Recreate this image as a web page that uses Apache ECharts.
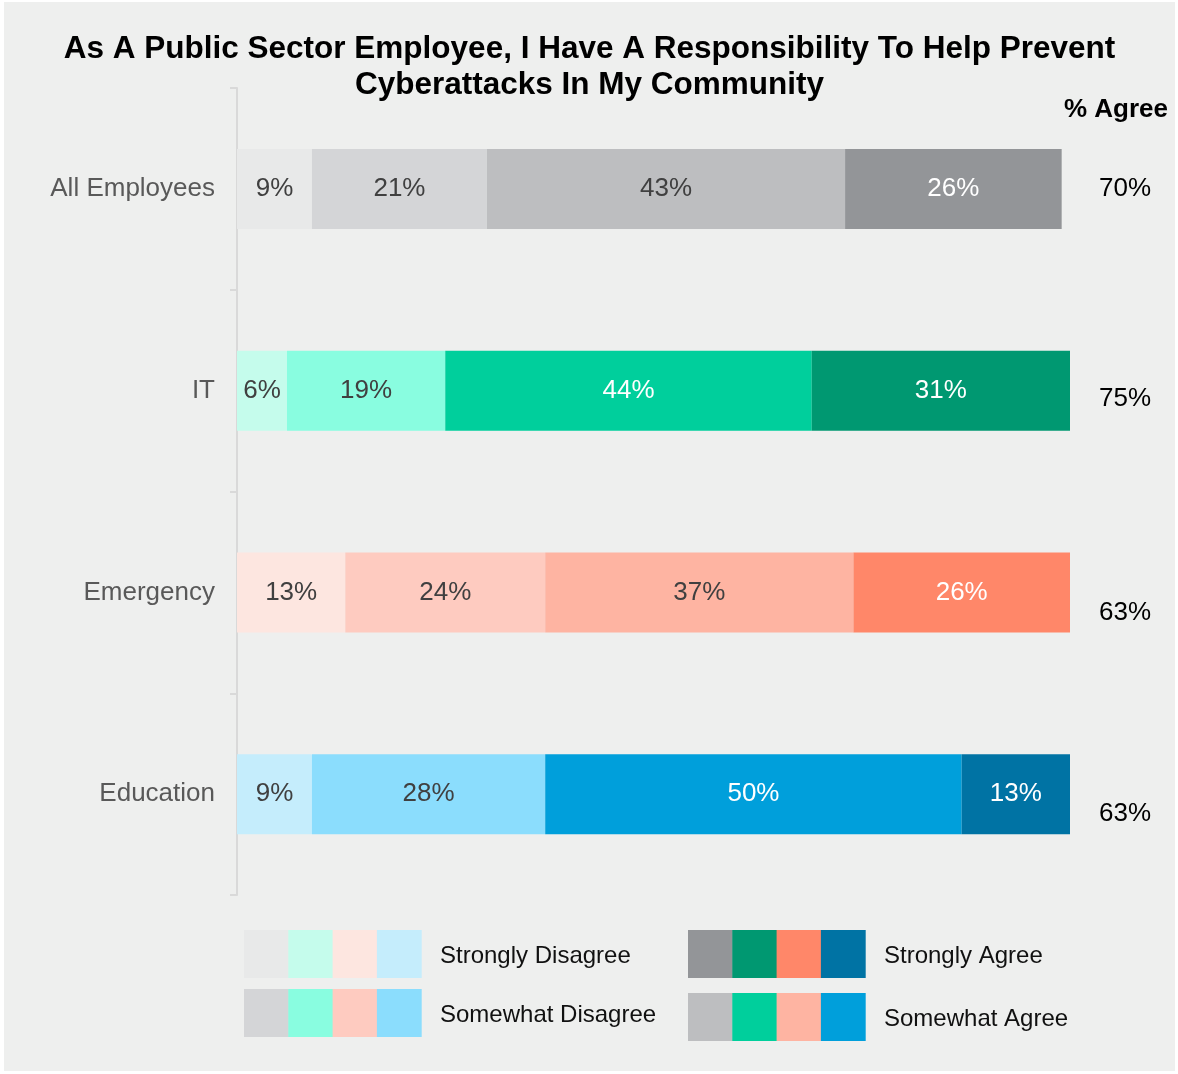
<!DOCTYPE html>
<html>
<head>
<meta charset="utf-8">
<script src="https://cdn.jsdelivr.net/npm/echarts@6/dist/echarts.min.js"></script>
<style>
  html, body { margin: 0; padding: 0; background: #ffffff; }
  #chart { position: absolute; left: 4px; top: 2px; width: 1171px; height: 1069px; background: #eeefee; }
</style>
</head>
<body>
<div id="chart"></div>
<script>
// Survey responses by employee group (percent of respondents)
const categories = ['All Employees', 'IT', 'Emergency', 'Education'];
const stronglyDisagree = [9, 6, 13, 9];
const somewhatDisagree = [21, 19, 24, 28];
const somewhatAgree = [43, 44, 37, 50];
const stronglyAgree = [26, 31, 26, 13];
const percentAgree = [70, 75, 63, 63];

const responseLevels = ['Strongly Disagree', 'Somewhat Disagree', 'Somewhat Agree', 'Strongly Agree'];
const levelValues = [stronglyDisagree, somewhatDisagree, somewhatAgree, stronglyAgree];

// One shade per response level for each group: grey, green, coral, blue
const levelColors = [
  ['#e8e9e9', '#c5fcec', '#fde6e0', '#c5edfc'],
  ['#d4d5d7', '#89fde0', '#fecbc0', '#8bddfd'],
  ['#bdbec0', '#00cf9c', '#feb4a2', '#009fdb'],
  ['#939598', '#009871', '#ff8769', '#0073a4']
];

const FONT = '"Liberation Sans", Arial, sans-serif';

function labelColor(hex) {
  const r = parseInt(hex.slice(1, 3), 16), g = parseInt(hex.slice(3, 5), 16), b = parseInt(hex.slice(5, 7), 16);
  const lum = (0.299 * r + 0.587 * g + 0.114 * b) / 255;
  return lum < 0.7 ? '#ffffff' : '#404040';
}

const series = responseLevels.map((name, li) => ({
  name: name,
  type: 'bar',
  stack: 'total',
  barWidth: 80,
  data: levelValues[li].map((v, ci) => ({
    value: v,
    itemStyle: { color: levelColors[li][ci] },
    label: { color: labelColor(levelColors[li][ci]) }
  })),
  label: {
    show: true,
    position: 'inside',
    formatter: '{c}%',
    fontFamily: FONT,
    fontSize: 26
  },
  emphasis: { disabled: true },
  animation: false
}));

const chart = echarts.init(document.getElementById('chart'), null, { renderer: 'canvas' });

chart.setOption({
  backgroundColor: '#eeefee',
  animation: false,
  title: {
    text: 'As A Public Sector Employee, I Have A Responsibility To Help Prevent\nCyberattacks In My Community',
    left: 'center',
    top: 24,
    textStyle: {
      fontFamily: FONT,
      fontWeight: 'bold',
      fontSize: 31.5,
      lineHeight: 36,
      color: '#000000'
    }
  },
  grid: { left: 233, right: 105, top: 86, bottom: 176, containLabel: false },
  xAxis: { type: 'value', min: 0, max: 100, show: false },
  yAxis: {
    type: 'category',
    data: categories,
    inverse: true,
    axisLine: { lineStyle: { color: '#d9d9d9', width: 2 } },
    axisTick: { show: true, length: 7, lineStyle: { color: '#d9d9d9', width: 2 } },
    axisLabel: { color: '#595959', fontFamily: FONT, fontSize: 26, margin: 22 }
  },
  series: series
});

// Column of "% Agree" totals to the right of the bars, plus the legend blocks
const agreeNudge = [0, 8, 20, 20];
const graphics = [{
  type: 'text',
  right: 7,
  top: 95,
  style: { text: '% Agree', font: 'bold 26px ' + FONT, fill: '#000000' }
}];
percentAgree.forEach((v, i) => {
  const y = chart.convertToPixel({ yAxisIndex: 0 }, categories[i]) + agreeNudge[i];
  graphics.push({
    type: 'text',
    x: 1095,
    y: y,
    style: { text: v + '%', font: '26px ' + FONT, fill: '#000000', textVerticalAlign: 'middle' }
  });
});

// Legend: each level is shown as a row of the four group shades
const legendSpots = [
  { x: 240, y: 928, tx: 436 },   // Strongly Disagree
  { x: 240, y: 987, tx: 436 },   // Somewhat Disagree
  { x: 684, y: 991, tx: 880 },   // Somewhat Agree
  { x: 684, y: 928, tx: 880 }    // Strongly Agree
];
responseLevels.forEach((name, li) => {
  const spot = legendSpots[li];
  levelColors[li].forEach((c, ci) => {
    graphics.push({
      type: 'rect',
      shape: { x: spot.x + ci * 44.3, y: spot.y, width: 44.8, height: 48 },
      style: { fill: c }
    });
  });
  graphics.push({
    type: 'text',
    x: spot.tx,
    y: spot.y + 26,
    style: { text: name, font: '24px ' + FONT, fill: '#111111', textVerticalAlign: 'middle' }
  });
});

chart.setOption({ graphic: graphics });
</script>
</body>
</html>
